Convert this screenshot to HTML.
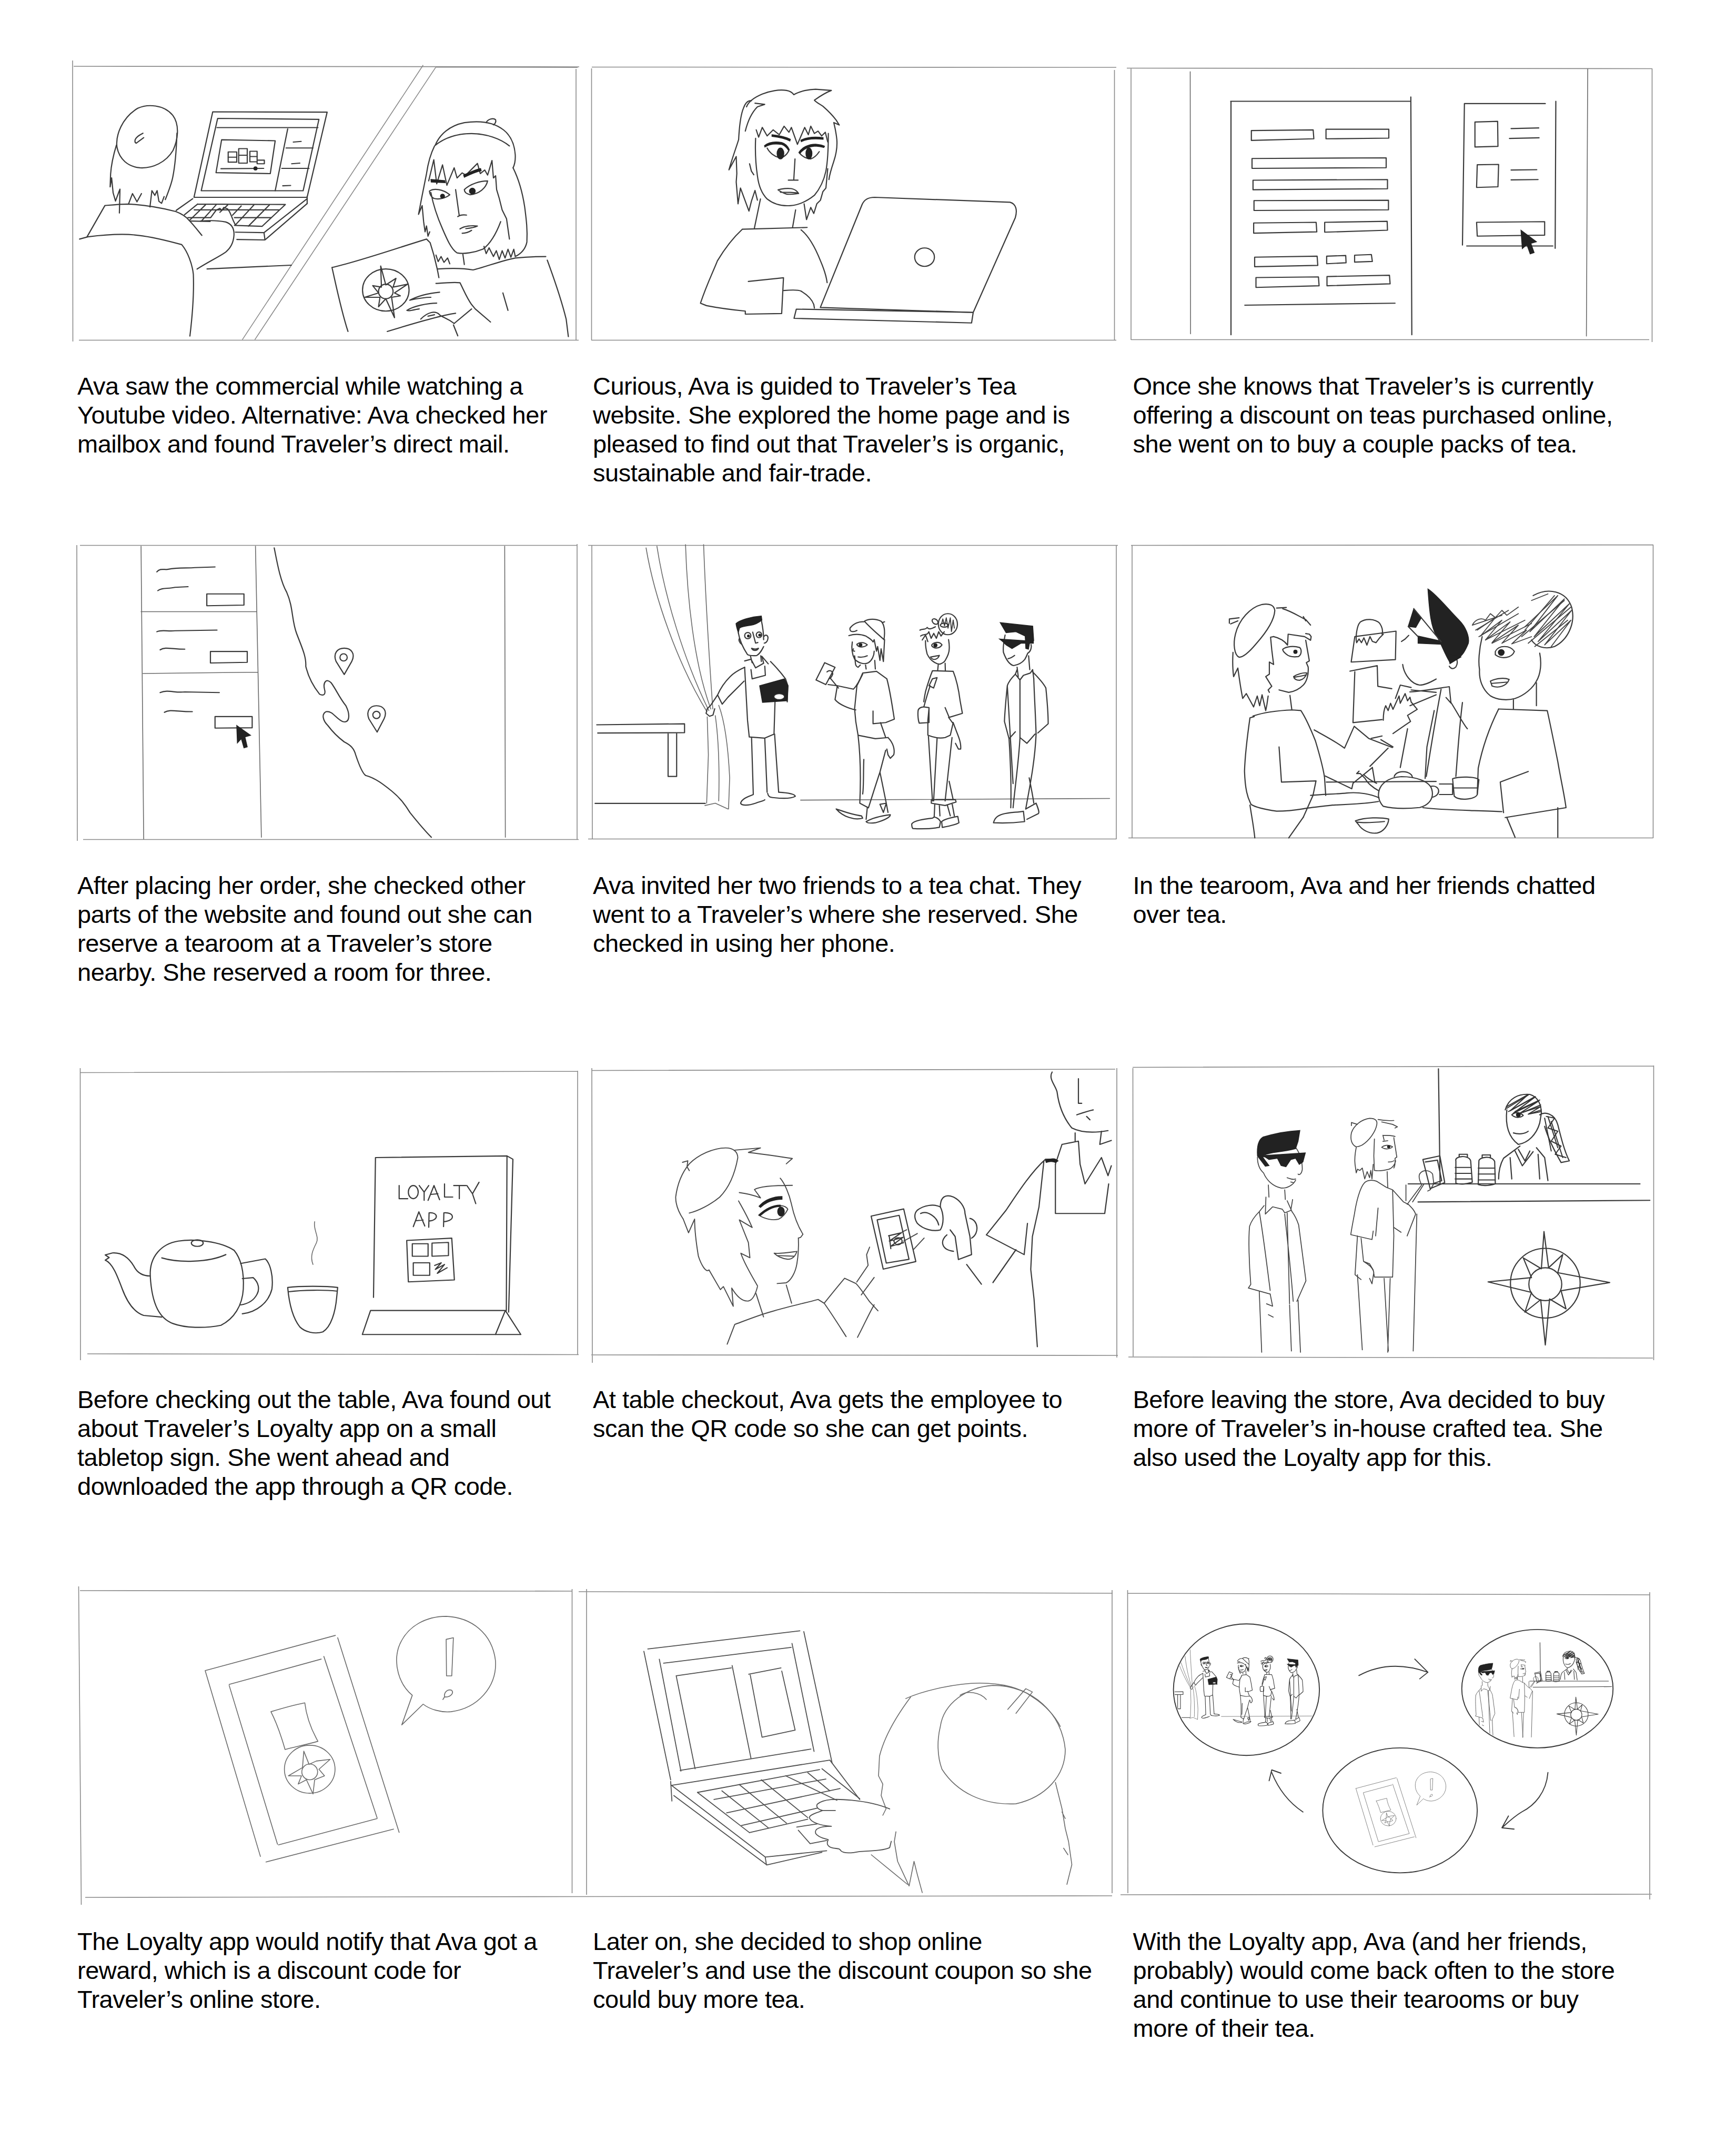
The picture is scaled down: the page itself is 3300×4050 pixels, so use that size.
<!DOCTYPE html>
<html><head><meta charset="utf-8"><title>Storyboard</title>
<style>
html,body{margin:0;padding:0;background:#fff;}
body{width:3300px;height:4050px;position:relative;overflow:hidden;}
.t{position:absolute;font-family:"Liberation Sans",sans-serif;font-size:47px;line-height:55px;letter-spacing:-0.5px;color:#000;white-space:nowrap;}
svg{position:absolute;left:0;top:0;}
svg *{vector-effect:non-scaling-stroke;}
.b{stroke:#8a8a8a;stroke-width:1.6;fill:none;}
.s{stroke:#3a3a3a;stroke-width:var(--sw,2.2px);fill:none;stroke-linecap:round;stroke-linejoin:round;}
.l{stroke:#6a6a6a;stroke-width:var(--lw,1.6px);fill:none;stroke-linecap:round;stroke-linejoin:round;}
.k{fill:#222;stroke:#222;stroke-width:var(--kw,1.5px);}
</style></head><body>
<svg width="3300" height="4050" viewBox="0 0 3300 4050">
<g class="b">
<!-- row 1 -->
<path d="M138,115 L138.5,649 M140,126 L1101,127 M1095,131 L1095,646 M150,646.5 L1100,646.5"/>
<path d="M1124.5,130 L1124.5,646 M1125,127.5 L2122,128 M2118.5,133 L2118.5,646 M1124,646.5 L2122,646.5"/>
<path d="M2150,130 L2150,646 M2142,129.5 L3140,130.5 M3140.5,130 L3140.5,650 M2150,645.5 L3135,645.5"/>
<!-- row 2 -->
<path d="M146,1036 L147,1598 M152,1036.5 L1097,1036.5 M1097,1034 L1097,1596 M158,1595.5 L1100,1595.5"/>
<path d="M1125,1036 L1126,1595 M1118,1036.5 L2125,1036.5 M2122,1036 L2122,1595 M1118,1594.5 L2122,1594.5"/>
<path d="M2152,1036 L2152,1593 M2150,1036.5 L3143,1035.5 M3142.5,1036 L3142.5,1593 M2145,1592.5 L3142,1592.5"/>
<!-- row 3 -->
<path d="M152.5,2030 L153,2585 M152,2038.5 L1098,2036 M1098,2035 L1098,2575 M166,2573 L1100,2574.5"/>
<path d="M1125,2030 L1126,2590 M1125,2034.5 L2120,2032 M2123,2030 L2123,2580 M1124,2575 L2125,2576"/>
<path d="M2153.5,2030 L2154,2578 M2153,2028.5 L3143,2026 M3143.5,2025 L3143.5,2585 M2145,2579 L3142,2581"/>
<!-- row 4 -->
<path d="M149.5,3015 L154.5,3620 M152,3023 L1087,3024 M1087.5,3020 L1087.5,3598 M162,3606 L1100,3604.5"/>
<path d="M1115,3020 L1115,3601 M1100,3025 L2115,3028 M2114,3022 L2114,3598 M1100,3604.5 L2114,3603"/>
<path d="M2143.5,3022 L2144,3598 M2143,3028 L3136,3031 M3136,3026 L3136,3610 M2130,3601 L3140,3600"/>
</g>

<g transform="translate(120,100) scale(0.625)">
<g class="b"><path d="M1095,38 L545,873 M1133,45 L583,873 M1133,44 L1565,45"/></g>
<g class="s">
<!-- laptop screen -->
<path d="M455,180 L803,181 L742,440 L398,440 Z"/>
<path d="M470,200 L778,203 L730,420 L420,420 Z"/>
<path d="M468,228 L775,228 M683,232 L645,420 M678,290 L760,290 M665,352 L748,352"/>
<path d="M700,272 L724,270 M695,338 L720,336 M668,405 L692,404"/>
<path d="M482,265 L645,268 L630,368 L465,365 Z"/>
<path d="M480,353 L610,352"/>
<path d="M502,302 L502,333 L528,333 L528,302 Z M534,292 L534,336 L560,336 L560,292 Z M568,300 L568,332 L590,332 L590,300 Z M590,327 L612,327 L612,338 L590,338 Z"/>
<path d="M502,318 L528,318 M534,312 L560,312 M568,316 L590,316"/>
</g>
<g class="k"><circle cx="585" cy="352" r="5"/></g>
</g>

<g transform="translate(620,200) scale(0.2765)">
<g class="s">
<path d="M750,275 C780,200 850,140 950,120 C1050,105 1150,115 1220,170 C1270,210 1295,270 1300,340 C1302,380 1295,410 1285,430"/>
<path d="M750,275 C820,220 900,195 1000,195 C1100,195 1200,230 1260,280"/>
<path d="M1100,120 C1110,95 1150,85 1165,100 C1170,115 1160,130 1150,135"/>
<path d="M745,280 C720,330 700,400 690,470 C680,520 670,570 660,620 L635,750 L660,690 L670,800 L680,870 L690,830 L700,900 L712,870"/>
<path d="M755,1030 L770,1075 L790,1040 L810,1080 L835,1050 L850,1090"/>
<path d="M1285,430 C1320,500 1350,600 1365,700 C1375,780 1385,850 1380,940 C1370,990 1340,1020 1300,1040 L1290,990 L1270,1045 L1250,990 L1230,1050 L1210,1000 L1190,1060 L1170,1000 L1150,1040 L1120,980 L1100,1020 L1085,970"/>
<path d="M705,520 L740,375 L760,540 L800,410 L830,550 L880,430 L900,500 L935,465 L960,480 L1040,400 L1060,470 L1090,445 L1110,480 L1140,380 L1150,500 L1165,485 L1172,580 L1190,640 L1210,720 L1240,780 L1250,850 L1260,920"/>
<path d="M720,600 C735,680 760,760 800,850 C830,920 860,990 900,1015 C950,1025 1020,1012 1080,988 C1130,950 1170,880 1200,800"/>
<path d="M710,590 C740,570 800,575 850,615 C820,640 770,650 740,640 C720,630 712,610 710,590 Z"/>
<path d="M950,580 C990,540 1060,520 1110,520 C1100,570 1050,610 990,615 C965,610 950,600 950,580 Z"/>
<path d="M890,580 L915,760 M905,765 C920,755 945,752 965,755"/>
<path d="M920,850 C950,830 1000,825 1040,830 C1020,840 990,845 960,848 M935,880 C960,880 985,870 1000,860"/>
<path d="M940,1025 L950,1095"/>
<path d="M770,1125 C850,1120 950,1120 1010,1132 C1100,1110 1200,1070 1300,1050 C1400,1040 1460,1040 1510,1040 M1520,1065 C1570,1200 1620,1350 1650,1470 L1665,1590"/>
<path d="M40,1115 C200,1080 400,1010 690,920 L715,945 C740,1020 760,1100 775,1185 M40,1115 C60,1200 100,1400 150,1555 M420,1555 C600,1500 800,1440 890,1430"/>
<ellipse cx="410" cy="1270" rx="160" ry="145"/>
<circle cx="410" cy="1280" r="50"/>
<path d="M375,1105 L410,1235 L480,1190 L460,1250 L560,1230 L470,1290 L510,1310 L450,1320 L470,1460 L410,1330 L360,1385 L370,1320 L265,1320 L360,1290 L320,1240 L380,1250 Z"/>
<path d="M575,1340 C650,1300 730,1290 780,1285 M575,1340 C620,1330 690,1320 720,1320 M555,1410 C600,1380 700,1360 760,1360 M555,1410 C570,1420 620,1400 640,1400 M650,1470 C700,1420 750,1410 780,1440 C800,1460 830,1460 880,1500 M700,1450 L745,1440"/>
<path d="M755,1225 C820,1220 880,1215 920,1220 C950,1280 970,1330 1000,1370 L1025,1400 L1130,1490 M880,1500 L1000,1400 M875,1510 L905,1585"/>
<path d="M1215,1290 L1250,1410"/>
</g>
<g class="k">
<circle cx="800" cy="625" r="14"/><circle cx="1005" cy="590" r="20"/>
<path d="M720,510 L815,518 L818,532 L722,528 Z M945,480 C990,460 1030,440 1062,435 L1066,450 C1030,458 990,475 950,495 Z"/>
</g>
</g>

<g transform="translate(130,110) scale(0.28345)">
<g class="s">
<path d="M465,338 C530,308 640,312 700,385 C745,445 738,540 702,620 C655,700 565,742 480,737 C400,730 342,680 326,600 C315,520 360,400 465,338 Z"/>
<path d="M500,505 C480,515 455,530 448,548 C445,560 448,570 455,572 L505,535"/>
<path d="M322,585 C302,650 287,720 283,780 L280,865 L290,805 L300,905 L316,960 L336,905 L346,880 L342,1040"/>
<path d="M405,975 L430,910 L460,965 L490,910"/>
<path d="M547,1000 L560,890 L580,922 L595,890 L607,962 L625,975 L642,930"/>
<path d="M728,505 C725,600 720,700 700,800 C690,850 670,900 650,950"/>
<path d="M75,1215 L130,1200 C250,1185 380,1178 470,1190 C560,1200 680,1230 760,1252 C800,1300 830,1380 838,1450 C842,1550 835,1700 815,1865"/>
<path d="M125,1200 L245,990 C300,985 350,980 400,980 C500,985 600,1000 720,1030 C760,1045 790,1065 810,1090 C840,1120 870,1160 895,1190"/>
<path d="M930,1415 L1495,1390"/>
</g>
</g>

<g transform="translate(300,350) scale(0.18433)">
<g class="s">
<path d="M360,150 L190,270 M1540,125 L1540,200"/>
<path d="M410,205 L1315,210 L1075,435 L790,425 M540,385 L340,380 M410,205 L275,315"/>
<path d="M375,265 L1250,265 M310,345 L540,345 M790,345 L1170,345"/>
<path d="M490,215 L330,370 M600,215 L450,380 M720,215 L640,290 M860,225 L770,320 M990,215 L800,420 M1150,215 L935,432"/>
<path d="M800,495 L1095,500 L1540,150 M815,570 L1105,575 L1540,200 M1095,500 L1105,575"/>
<path d="M440,380 C500,375 600,370 700,390 C760,410 790,460 785,530 C780,600 750,660 700,700 C630,750 520,800 405,875"/>
<path d="M545,345 L600,270 L640,250 L660,270 L680,240 L720,255 L740,285 L760,330 L780,380 L800,420"/>
</g>
</g>

<g transform="translate(1100,100) scale(0.625)">
<g class="s">
<path d="M735,775 L862,462 C868,448 880,440 900,440 L1312,455 C1330,460 1335,478 1328,502 L1200,790 Z"/>
<ellipse cx="1052" cy="622" rx="30" ry="28"/>
<path d="M662,780 L1200,790 L1195,822 L655,808 Z"/>
</g>
</g>
<g transform="translate(1320,150) scale(0.23041)">
<g class="s">
<path d="M430,230 C450,180 500,150 560,125 C620,100 700,85 760,95 C790,100 810,115 820,130 C870,100 950,85 1000,85 L1130,95 C1090,110 1040,140 990,175 C1000,190 1030,205 1060,225 C1100,260 1140,300 1170,340 L1195,380 L1150,360 C1160,400 1170,450 1175,500 C1180,560 1170,620 1150,680 C1130,740 1115,790 1110,830"/>
<path d="M1100,740 L1085,900 L1060,930 L1040,1000 L1010,1030 L985,1110 L960,1060 L925,1160 L905,1030"/>
<path d="M470,180 C440,175 420,200 405,240 C380,300 370,400 365,500 C340,580 310,660 285,750 L345,640 L350,780 L345,850 L360,1030 L380,900 L450,1090 L470,1010 L500,920 L520,1000"/>
<path d="M500,200 L580,210 L520,230 C470,280 440,350 420,430 M455,700 L470,760 L490,790"/>
<path d="M505,490 C500,600 505,700 520,800 C530,880 560,950 600,990 C650,1030 720,1050 790,1045 C870,1040 940,1000 990,960 C1040,900 1070,830 1085,760 C1100,680 1105,560 1105,450"/>
<path d="M510,420 L530,480 L560,400 L600,470 L650,420 L700,460 L740,390 L780,440 L800,400 L850,540 L880,470 L910,400 L940,460 L960,390 L990,450 L1020,430 L1050,470 L1080,440 L1100,520"/>
<path d="M600,570 C620,610 660,640 700,650 C730,650 760,630 780,590 M865,610 C890,640 930,660 960,660 C990,650 1010,630 1030,600"/>
<path d="M830,660 L820,830 M775,835 L855,835"/>
<path d="M690,915 C720,905 770,900 800,905 C830,910 850,930 860,945 C820,950 780,955 760,950 C730,940 710,930 690,915 Z M710,935 C750,935 800,935 850,940"/>
<path d="M545,990 L495,1230 M835,1080 L810,1225"/>
<path d="M395,1240 L930,1225 M395,1240 C330,1300 250,1400 190,1500 C150,1600 100,1700 50,1850 L100,1870 C200,1890 320,1905 420,1915 L420,1940 L720,1935 L735,1640 L445,1670"/>
<path d="M880,1245 C950,1300 1000,1400 1040,1500 C1070,1570 1090,1640 1095,1680"/>
<path d="M738,1745 C800,1740 860,1740 880,1750 C930,1780 970,1820 985,1860 L990,1890"/>
</g>
<g class="k">
<path d="M640,460 C690,465 750,475 792,498 L788,512 C750,492 690,480 640,474 Z"/>
<path d="M578,550 C610,524 660,514 720,524 C752,534 772,556 783,583 L775,588 C762,566 745,550 718,540 C660,532 612,540 582,562 Z"/>
<path d="M878,505 C920,484 980,474 1062,484 L1062,498 C980,490 920,498 882,518 Z"/>
<path d="M862,606 C888,564 940,538 1000,538 C1032,541 1062,548 1074,555 L1068,566 C1056,562 1030,556 1000,554 C944,556 896,580 872,614 Z"/>
<ellipse cx="710" cy="615" rx="28" ry="45"/><ellipse cx="945" cy="615" rx="25" ry="45"/>
</g>
</g>

<g transform="translate(2130,100) scale(0.625)">
<g class="l">
<path d="M212,58 L213,855 M1421,50 L1417,862"/>
</g>
<g class="s">
<path d="M335,148 L880,148 M336,148 L336,858 M883,135 L886,858"/>
<path d="M398,237 L586,235 L588,262 L398,267 Z M625,233 L816,233 L816,260 L625,262 Z"/>
<path d="M400,322 L808,320 L808,350 L400,352 Z M403,388 L812,386 L812,414 L403,417 Z M406,450 L815,449 L815,478 L406,480 Z"/>
<path d="M405,518 L595,516 L597,545 L405,549 Z M621,516 L811,513 L812,540 L621,546 Z"/>
<path d="M408,622 L598,619 L600,647 L408,651 Z M627,619 L685,617 L686,639 L627,642 Z M712,616 L763,614 L766,635 L712,637 Z"/>
<path d="M412,684 L602,682 L604,709 L412,714 Z M628,681 L818,677 L820,703 L628,709 Z"/>
<path d="M378,768 L835,762"/>
<path d="M1046,155 L1292,155 M1046,155 L1040,585 M1053,588 L1315,588 M1324,148 L1322,595"/>
<path d="M1078,211 L1147,209 L1148,285 L1078,287 Z M1188,231 L1272,229 M1183,261 L1273,259"/>
<path d="M1085,341 L1150,340 L1148,408 L1083,410 Z M1188,357 L1266,356 M1188,387 L1270,386"/>
<path d="M1083,516 L1290,514 L1290,555 L1085,558 Z"/>
</g>
<g class="k"><path d="M1218,540 L1265,575 L1248,580 L1258,608 L1246,612 L1236,584 L1222,596 Z"/></g>
</g>

<g transform="translate(120,1010) scale(0.625)">
<g class="l">
<path d="M237,45 L245,935 M585,45 L603,930 M1343,45 L1345,930 M237,244 L588,244 M243,432 L592,428"/>
</g>
<g class="s">
<path d="M285,123 C295,110 310,118 320,115 C345,110 380,112 400,110 L462,108"/>
<path d="M288,180 C300,170 320,175 340,170 L380,168"/>
<path d="M437,190 L550,190 L550,224 L437,226 Z"/>
<path d="M285,305 C300,298 320,305 340,302 L468,300"/>
<path d="M295,360 C310,350 330,358 370,358"/>
<path d="M448,365 L560,365 L560,398 L448,400 Z"/>
<path d="M295,490 C320,480 340,492 370,488 L475,490"/>
<path d="M308,550 C325,540 345,548 393,548"/>
<path d="M462,563 L575,563 L575,597 L462,598 Z"/>
<!-- coast -->
<path d="M642,50 C650,90 660,150 680,185 C700,230 695,270 710,310 C725,350 740,380 738,410 C745,440 760,470 780,495 C790,500 800,498 795,480 C790,460 800,445 815,460 C830,480 840,505 860,530 C875,560 870,585 850,578 C830,570 820,545 800,548 C785,555 790,575 805,590 C820,610 835,625 855,640 C875,650 885,660 890,680 C900,710 910,735 920,742 C950,750 975,770 1000,790 C1025,810 1040,830 1055,855 C1075,880 1095,905 1120,930"/>
<!-- pins -->
<path d="M855,435 L830,395 C820,370 835,355 855,355 C875,355 890,370 878,395 Z"/>
<circle cx="853" cy="383" r="11"/>
<path d="M955,610 L930,570 C920,545 935,530 953,530 C973,530 988,545 976,570 Z"/>
<circle cx="953" cy="558" r="11"/>
</g>
<g class="k"><path d="M528,590 L570,620 L553,625 L560,655 L550,658 L542,630 L530,643 Z"/></g>
</g>

<g id="art5" transform="translate(1100,1010) scale(0.625)">
<g class="l">
<path d="M205,50 C230,200 300,400 390,548 M238,45 C262,200 320,390 396,545 M325,40 C330,200 350,400 402,540 M380,40 C386,200 398,400 408,540"/>
<path d="M675,817 L1615,812"/>
</g>
<g class="s">
<path d="M55,588 L322,585 L322,612 L58,613 M272,612 L272,745 L298,745 L298,612 M50,827 L385,827"/>
<!-- bun friend -->
<ellipse cx="1123" cy="282" rx="29" ry="32"/>
<ellipse cx="1084" cy="274" rx="10" ry="7" transform="rotate(40 1084 274)"/><ellipse cx="1112" cy="285" rx="12" ry="6"/>
<path d="M1055,332 C1054,350 1058,365 1060,373 C1066,385 1072,392 1079,396 C1088,402 1096,404 1100,403 C1108,400 1113,396 1115,392 C1122,380 1127,368 1127,358 C1128,345 1126,335 1125,329"/>
<path d="M1038,300 C1045,295 1055,300 1060,292 C1065,300 1075,295 1085,290 M1040,318 C1050,310 1060,318 1065,305 L1072,325 L1080,310 L1088,325 L1095,305 L1102,318 L1112,305 M1045,330 L1055,315 L1062,335"/>
<path d="M1074,345 C1080,336 1098,334 1105,345 C1098,356 1082,358 1074,348 Z M1070,382 C1080,380 1092,378 1097,377 C1092,390 1078,394 1070,382 Z"/>
<!-- guy -->
<path d="M1297,315 C1293,335 1290,355 1292,368 C1300,390 1310,405 1323,408 C1340,405 1350,398 1357,389 C1362,380 1364,375 1366,370 C1376,365 1378,350 1376,344"/>
<path d="M1306,387 C1315,385 1322,380 1326,377"/>
</g>
<g class="k">
<circle cx="1085" cy="346" r="5"/>
<path d="M1282,277 L1381,288 L1384,332 L1372,336 L1368,358 L1360,356 L1358,318 L1330,305 L1300,308 Z"/>
<path d="M1280,327 L1383,334 L1383,340 L1345,340 L1318,356 L1300,345 L1290,335 Z"/>
</g>
<g transform="translate(384,224) scale(0.35022)">
<g class="s">
<path d="M290,240 C300,300 330,370 370,430 C390,440 420,440 450,438 C480,420 495,390 510,360 M490,130 C500,180 510,250 510,300"/>
<path d="M300,290 C290,300 300,330 320,340 M515,270 C530,250 555,265 545,300 C540,320 525,330 515,330"/>
<circle cx="372" cy="265" r="27"/><circle cx="470" cy="258" r="24"/>
<path d="M415,235 L440,330 L460,325 M405,375 C430,385 455,380 465,375 C450,400 420,400 405,375 Z"/>
<path d="M395,440 L410,500 M485,440 L490,490 M345,485 L400,470 L440,545 L510,505 L495,445 L550,510"/>
<path d="M345,540 L370,1000 L385,1145 L520,1155 L600,1120 L610,800 M400,560 L410,640 L525,610 L520,530"/>
<path d="M345,540 C300,560 260,580 220,620 C180,660 140,710 110,780 L150,860 L200,800 C240,760 280,720 340,660 M110,780 L90,810 L50,870 L20,900 L10,940 L40,965 L70,955 L85,900"/>
<path d="M570,490 C620,540 670,600 700,640 L720,700 L715,840"/>
<path d="M405,1150 L420,1640 M520,1160 L540,1625 M605,1120 L640,1620"/>
<path d="M420,1645 C380,1660 320,1680 310,1720 C320,1745 380,1740 440,1720 C480,1705 510,1700 520,1690 M545,1635 C550,1660 560,1670 600,1672 C670,1680 750,1680 785,1660 C780,1640 720,1630 640,1625"/>
<path d="M1385,140 C1420,120 1480,115 1530,140 C1560,170 1565,230 1555,300 C1500,250 1440,200 1385,140 Z M1545,150 L1560,145"/>
<path d="M1380,145 C1340,140 1290,160 1260,200 C1255,230 1280,240 1320,220 M1250,265 C1300,250 1350,250 1400,270 C1430,290 1450,300 1460,320 L1470,300 L1490,400 L1500,360 L1520,480 L1530,380 L1550,490 L1560,300"/>
<path d="M1280,320 C1270,380 1280,430 1300,470 C1330,500 1380,520 1420,500 C1450,480 1470,440 1470,400 M1300,440 C1310,500 1300,530 1330,540 L1350,520"/>
<path d="M1320,340 C1345,320 1380,320 1410,345 C1380,370 1340,370 1320,345 Z M1290,380 C1280,390 1285,400 1300,400 M1330,450 C1360,455 1390,450 1410,440 M1395,520 L1400,555 M1475,480 L1480,555"/>
<path d="M965,650 L1040,500 L1130,540 L1050,690 Z M1060,580 C1080,560 1110,570 1110,600 C1100,625 1085,640 1075,640 M1070,690 L1150,700 M1085,630 L1160,720"/>
<path d="M1150,700 L1290,730 C1320,700 1350,640 1370,590 L1490,575 L1580,640 C1610,750 1630,900 1645,990 L1570,1020 L1460,1030 L1460,920 M1370,600 L1320,700 L1300,900 L1310,1010 L1330,1130 M1150,700 L1130,820 C1160,860 1250,900 1310,910 M1330,1130 L1480,1160 L1590,1150"/>
<path d="M1525,1020 L1570,1150 M1590,1150 C1640,1200 1650,1260 1640,1300 L1610,1330 L1590,1300 L1580,1250"/>
<path d="M1330,1130 C1350,1300 1355,1500 1345,1720 L1420,1760 C1440,1700 1470,1600 1520,1450 L1570,1260 M1410,1760 L1400,1860 M1380,1340 C1375,1450 1380,1580 1370,1640 M1520,1450 L1575,1720 L1520,1730 L1550,1800 L1575,1720 L1590,1800"/>
<path d="M1140,1770 C1200,1790 1280,1820 1360,1830 L1370,1850 C1300,1870 1200,1840 1140,1770 Z M1400,1880 C1450,1850 1530,1830 1610,1820 C1610,1840 1560,1870 1480,1890 C1440,1895 1410,1895 1400,1880 Z"/>
</g>
<g class="l">
<path d="M20,970 L30,1300 L15,1720 M90,960 C110,1100 130,1300 120,1700 M120,870 C170,1000 200,1200 215,1500 L205,1770 M0,1740 L90,1720 L200,1770"/>
</g>
<g class="k">
<path d="M270,160 C300,130 400,100 490,95 L495,130 C470,150 440,170 400,175 C360,180 320,185 300,200 L290,240 C280,210 272,185 270,160 Z"/>
<path d="M475,700 L690,640 L722,700 L715,830 L500,845 Z"/>
<circle cx="378" cy="268" r="9"/><circle cx="476" cy="260" r="9"/><circle cx="1352" cy="345" r="12"/>
</g>
<ellipse cx="645" cy="795" rx="45" ry="25" fill="#fff" stroke="#333" stroke-width="1.5"/>
</g>
<g transform="translate(992,224) scale(0.35022)">
<g class="s">
<path d="M290,520 L285,570 M350,505 L352,570"/>
<path d="M240,570 L420,575 C450,650 470,750 480,830 L500,940 L385,975 L350,890 M240,570 C220,620 200,680 180,750 C170,800 165,830 165,840 M210,900 L200,1000 L200,1130 C250,1150 300,1160 350,1150 L395,1130 L420,1020 M380,975 L420,1030"/>
<path d="M115,920 C115,900 140,880 170,885 L210,890 L210,1020 L125,1025 C115,1000 112,950 115,920 Z M165,885 C180,830 200,760 220,700 M240,640 L280,630 L250,720 L210,700 Z"/>
<path d="M420,1020 L450,1100 C470,1150 490,1200 485,1250 L465,1250 L440,1200"/>
<path d="M205,1140 L240,1700 M280,1160 L250,1700 M410,1150 L350,1700 M385,1530 L420,1690"/>
<path d="M230,1690 L440,1690 L445,1710 L350,1740 L230,1720 Z M260,1730 L255,1840 M300,1740 L305,1830 M370,1740 L395,1830 M410,1720 L430,1830"/>
<path d="M60,1900 C80,1870 160,1860 240,1850 L255,1840 C280,1845 300,1860 310,1880 L300,1930 C240,1940 150,1945 70,1940 C60,1930 60,1910 60,1900 Z M320,1880 C340,1860 400,1845 460,1835 L470,1890 C440,1910 380,1920 325,1930 Z"/>
<path d="M975,540 L985,620 M1075,440 L1085,560 M975,560 L960,600 L1000,650 L1030,610 L1090,590 L1110,560 L1120,640"/>
<path d="M960,600 C930,630 900,670 890,700 C880,800 870,900 865,1010 L905,1160 L960,1100 M890,700 L940,1550 M1000,650 L1000,1150 L1060,1200 L1130,1120 M1110,580 C1150,620 1200,670 1225,720 C1235,820 1245,920 1245,1030 L1155,1110 M1120,640 C1125,800 1135,950 1140,1120"/>
<path d="M905,1160 C920,1400 925,1600 920,1760 M1000,1150 C990,1350 960,1550 940,1760 M1140,1120 C1130,1350 1090,1550 1050,1770 M1080,1500 C1100,1600 1115,1680 1120,1720"/>
<path d="M770,1890 C780,1850 800,1830 850,1815 C900,1800 970,1800 1030,1790 L1040,1880 C960,1890 870,1895 770,1890 Z M1050,1770 L1140,1720 C1160,1770 1170,1800 1160,1810 L1060,1860"/>
</g>
<g class="s" style="stroke-width:var(--sw,1.8px)"><path d="M320,160 L330,120 L345,180 L360,110 L375,200 L395,110 L405,230 L420,130 L430,200"/></g>
</g>
</g>

<g transform="translate(2130,1010) scale(0.625)">
<g class="s">
<!-- center guy (right side parts) -->
<path d="M995,400 M1005,380 C1020,375 1030,395 1020,412 C1012,420 1005,418 1000,410"/>
<path d="M880,488 C920,485 960,478 1000,472 L1005,522 L990,505"/>
<path d="M1005,520 C1030,560 1045,590 1055,600 M975,480 C960,560 945,650 930,745 M1040,520 C1030,600 1025,680 1020,745"/>
<path d="M945,775 C970,770 978,800 950,808"/>
<!-- right girl -->
<path d="M1255,195 C1300,170 1355,180 1372,230 C1385,280 1360,330 1320,350 C1290,360 1262,350 1250,330"/>
<path d="M1100,320 C1090,360 1088,400 1092,420 C1090,450 1100,480 1125,500 C1145,512 1175,515 1200,508 C1230,498 1255,475 1265,455 C1280,430 1280,395 1275,370"/>
<path d="M1140,365 C1150,345 1185,345 1198,365 C1190,385 1160,390 1140,375 Z"/>
<path d="M1125,455 C1145,445 1170,445 1182,450 C1175,470 1150,478 1130,470 Z M1130,462 L1178,458"/>
<path d="M1195,512 L1195,540 M1265,460 L1265,530"/>
<path d="M1150,540 L1298,545 C1310,600 1320,650 1330,700 C1340,760 1350,800 1355,840 L1170,870"/>
<path d="M1150,540 C1120,600 1100,660 1088,720 L1085,800 M1240,730 L1155,762 L1165,855 M1175,870 L1200,930 M1330,840 L1330,930"/>
<path d="M1010,752 C1030,745 1080,745 1090,755 L1085,800 C1080,815 1030,820 1015,805 Z M1012,780 L1085,780 M970,768 L1010,768 L1010,800 L970,800"/>
<path d="M920,840 C980,848 1080,848 1160,852"/>
</g>
<g class="k">
<path d="M935,175 C960,190 1000,240 1030,270 C1050,290 1062,320 1058,340 C1050,360 1040,380 1020,390 L1000,395 C985,370 975,340 960,315 C945,290 940,250 935,175 Z"/>
<path d="M875,289 L892,235 L915,262 L898,292 Z M905,318 L978,334 L976,343 L905,340 Z M995,372 L1035,382 L1002,402 Z"/>
<circle cx="1158" cy="368" r="9"/>
</g>
<g class="s"><path d="M892,235 L975,335 M875,289 L905,320"/></g>
<g class="s" style="stroke:#444;stroke-width:1.8px">
<path d="M1230,290 L1330,195 L1245,305 L1350,205 L1258,320 L1365,220 L1270,335 L1372,240 L1290,345 L1370,270 L1310,350 M1085,300 L1140,262 L1095,318 L1160,270 L1110,330 L1185,275 L1130,338 L1210,285 L1160,340 L1235,300 L1190,342 L1250,320"/>
<path d="M1070,285 C1080,265 1100,262 1110,270 L1125,250 L1140,262 L1160,240 L1175,255 L1210,230 M1080,300 L1180,240 M1090,320 L1210,250 M1110,330 L1230,270 M1130,340 L1250,280 M1220,320 L1350,210 M1240,340 L1370,230 M1260,350 L1360,270 M1230,300 L1320,195 M1250,210 L1300,190 M1070,285 L1160,255"/>
</g>
</g>
<g transform="translate(2330,1120) scale(0.23041)">
<g class="s">
<path d="M110,560 C70,540 60,450 80,370 C110,250 200,150 300,125 C360,115 400,130 405,175 C400,260 330,360 250,450 C200,510 150,560 110,560 Z M30,280 L30,245 L110,235 M40,285 L100,260"/>
<path d="M420,155 L500,150 M470,160 C540,180 600,220 660,250 L700,295 M640,225 L660,260"/>
<path d="M60,520 C55,600 60,680 65,720 L100,650 C110,720 120,800 140,900 L170,860 L230,970 L260,880 L280,960 L300,870 L330,1000 L340,950 L350,880"/>
<path d="M395,390 L370,395 L380,500 L395,620 L360,600 L360,700 L330,720 L380,800 L350,830 L360,850"/>
<path d="M515,370 L650,390 L700,420 L705,390 L690,370 L660,365 M660,420 L690,590 L665,605 L680,640 C685,700 670,760 640,790 C600,830 560,845 520,850 L440,830 M395,390 C440,400 480,420 510,460 L515,370"/>
<path d="M470,495 C500,470 560,465 610,480 C630,500 625,540 600,555 C560,560 520,555 500,535 C480,520 470,505 470,495 Z"/>
<path d="M560,720 C590,700 640,685 670,690 C660,720 640,745 610,750 C580,750 565,740 560,720 Z M565,725 C600,720 640,712 665,705"/>
<path d="M530,875 L545,990"/>
<path d="M225,1045 C300,1020 420,1000 550,995 L620,1000 C660,1060 700,1150 740,1250 C770,1350 800,1450 815,1550 L825,1700"/>
<path d="M440,1300 L460,1590 L745,1580 L720,1700 L640,1880 M235,1050 L200,1060 C180,1200 160,1350 155,1500 C160,1650 180,1720 210,1775 C250,1800 350,1820 420,1830 C500,1830 580,1820 640,1810"/>
<path d="M200,1780 C210,1850 230,1950 240,2050 M520,2050 L640,1880"/>
<path d="M730,1160 C800,1200 900,1250 980,1310 L1060,1130 L1180,1230 L1375,1305"/>
<path d="M820,1540 L1040,1645 L1050,1600 L1210,1470"/>
<path d="M700,1700 C800,1690 900,1690 1000,1680 C1100,1670 1200,1690 1265,1720 M640,1810 C700,1800 800,1790 880,1780 C1000,1775 1150,1770 1260,1750"/>
<path d="M1070,1910 C1150,1880 1280,1880 1345,1895 C1340,1950 1300,2000 1250,2010 C1180,2020 1120,1980 1095,1940 L1070,1910 Z M1085,1920 C1150,1930 1260,1920 1310,1915"/>
<path d="M1260,1700 C1260,1600 1350,1550 1450,1545 C1560,1545 1680,1580 1700,1650 C1720,1720 1680,1780 1600,1800 C1500,1810 1380,1810 1300,1790 C1270,1760 1260,1720 1260,1700 Z"/>
<path d="M1390,1545 C1400,1510 1450,1495 1500,1510 C1530,1520 1540,1540 1540,1550"/>
<path d="M1260,1660 C1220,1640 1170,1600 1150,1560 L1110,1520 L1080,1520 L1100,1500 M1245,1600 C1200,1580 1160,1550 1140,1530"/>
<path d="M830,1590 L1736,1585"/>
<path d="M1035,600 L1065,390 L1405,345 L1400,580 Z"/>
<path d="M1080,440 C1070,400 1080,300 1110,270 C1150,240 1230,240 1270,280 C1290,310 1300,340 1290,370 M1080,440 L1100,410 L1120,440 L1140,400 L1165,460 L1190,390 L1210,430 L1240,440 L1270,400 L1300,370"/>
<path d="M1025,675 L1250,630 L1255,800 L1370,820 M1065,680 L1050,1100 L1290,1075"/>
<path d="M1460,620 C1470,700 1530,780 1600,790 C1650,790 1700,760 1736,740 M1450,430 L1480,410 L1510,380"/>
<path d="M1300,1080 C1300,1020 1310,980 1320,960 L1340,1000 L1360,940 L1380,990 L1430,880 L1440,940 L1480,860 L1500,920 L1520,890 L1530,930 L1580,990 L1500,1040 L1525,1090 L1480,1120 L1380,1190"/>
<path d="M1400,900 L1440,790 L1530,810 M1530,830 L1736,850 M1520,960 L1736,870"/>
<path d="M1200,1230 L1290,1210 M1280,1240 L1380,1300 M1340,1310 L1190,1460 M1210,1470 L1230,1590 M1500,1150 L1440,1470 M1720,1000 L1660,1300 L1645,1560"/>
</g>
<g class="k"><circle cx="575" cy="515" r="14"/></g>
</g>

<g transform="translate(120,2000) scale(0.625)">
<g class="s">
<path d="M265,680 C262,620 300,582 350,574 C400,566 480,575 520,602 C545,632 550,680 548,720 C545,770 520,810 480,830 C430,840 370,838 335,825 C295,810 270,770 265,680 Z"/>
<path d="M300,625 C350,640 440,640 495,615"/>
<ellipse cx="408" cy="580" rx="18" ry="10"/>
<path d="M265,680 C240,680 225,670 215,650 C200,625 180,608 150,610 L128,616 L140,624 L128,632 C150,640 165,680 180,720 C195,760 215,790 245,800 L300,805"/>
<path d="M540,642 L615,628 C630,642 640,680 635,720 C625,760 590,790 545,795 M545,688 L578,685 C595,700 598,720 590,735 C580,755 560,765 540,768"/>
<path d="M683,715 C720,710 800,710 835,715 L832,745 C828,790 815,835 790,850 C765,858 735,850 720,835 C700,810 688,770 683,715 Z"/>
<path d="M686,728 C730,722 800,722 832,726"/>
<path d="M950,320 L1350,315 L1348,785 M950,320 L944,745 M1350,315 L1368,325 L1355,790"/>
<path d="M910,858 L935,785 L1345,785 L1392,858 Z M1345,785 L1315,858"/>
<path d="M1045,572 L1182,565 L1190,692 L1050,698 Z"/>
<path d="M1062,582 L1110,582 L1110,620 L1062,620 Z M1122,580 L1172,578 L1172,618 L1122,620 Z M1065,640 L1115,640 L1115,678 L1065,678 Z"/>
<path d="M1130,648 L1150,640 L1132,660 L1160,645 L1138,672 L1168,655"/>
<path d="M1022,405 L1022,445 L1048,445 M1083,405 L1098,425 L1112,405 M1098,425 L1098,450 M1110,450 L1128,405 L1145,448 M1118,432 L1140,430 M1160,400 L1160,440 L1185,440 M1188,405 L1225,405 M1205,405 L1205,445 M1228,405 L1245,430 L1265,395 M1245,430 L1255,460"/>
<ellipse cx="1065" cy="425" rx="15" ry="20"/>
<path d="M1065,530 L1082,485 L1100,528 M1072,512 L1095,510 M1112,532 L1113,488 C1140,485 1145,510 1113,513 M1157,530 L1158,488 C1190,485 1195,512 1158,515"/>
</g>
<g class="l"><path d="M765,515 C760,540 780,560 770,580 C760,600 750,620 760,645"/></g>
</g>

<g transform="translate(1100,2000) scale(0.625)">
<g class="s">
<path d="M1030,480 C1050,465 1080,460 1100,470 C1110,490 1112,520 1100,540 C1080,545 1050,540 1030,520 C1020,505 1020,490 1030,480 Z M1040,490 C1060,480 1090,500 1095,525"/>
<path d="M1100,470 C1100,440 1115,430 1140,440 C1160,450 1175,470 1175,490 L1190,560 L1195,615 L1155,630 L1145,560 L1130,540 M1190,505 C1215,510 1220,550 1195,565 M1120,555 C1100,570 1100,600 1140,605"/>
<path d="M1440,60 C1428,80 1450,100 1455,120 C1460,160 1475,200 1500,230 C1530,245 1570,245 1610,238 M1520,80 L1520,155 L1530,155 M1515,190 C1530,185 1550,178 1565,175 M1545,195 L1555,205"/>
<path d="M1470,280 L1520,270 L1525,340 L1540,400 L1590,320 L1610,375 L1620,345 M1470,280 L1450,340 M1510,245 L1510,270 M1590,240 L1585,280 L1620,268"/>
<path d="M1445,325 L1420,325 C1380,360 1340,420 1300,480 L1240,555 L1355,615 L1365,520 M1415,330 L1400,470 L1380,560 L1375,660 L1385,750 L1395,895 M1450,340 L1450,490 L1600,490 L1612,400"/>
<path d="M1180,645 L1225,705 M1260,700 L1330,600"/>
</g>
<g class="k">

<path d="M1420,328 C1440,322 1450,322 1458,330 L1450,335 C1440,330 1430,332 1422,335 Z"/>
</g>
</g>

<g transform="translate(1270,2160) scale(0.28802)">
<g class="l" style="stroke:#484848;stroke-width:1.9px">
<path d="M140,505 C200,490 280,450 340,400 C400,340 440,250 460,140 C460,100 430,75 380,75 C300,75 200,120 140,180 C90,240 60,320 50,400 C50,450 70,500 100,545 M95,170 L130,160 L125,200 L140,225"/>
<path d="M440,90 L610,75 L530,105 C620,115 720,130 820,145 L780,180"/>
<path d="M100,545 L135,635 L175,545 C175,600 185,700 200,790 C220,850 250,900 270,880 L345,1010 L365,990 L430,1120 L420,1000 C450,1050 490,1090 530,1085 C560,1080 580,1030 590,990"/>
<path d="M470,370 C510,375 560,385 610,405 L570,350 C600,330 700,322 820,322 M740,275 C770,310 800,380 815,450 C830,520 850,580 890,645 L875,665 L860,670"/>
<path d="M465,425 C490,470 520,520 555,600 L470,550 C490,600 510,650 530,700 L540,800 L480,770 C500,830 540,900 590,985"/>
<path d="M860,670 C862,720 860,780 850,840 C840,900 810,950 780,965 L720,970"/>
<path d="M600,520 C630,490 680,455 740,455 C770,458 785,470 790,480 C780,500 760,530 730,545 C690,555 640,545 600,520 Z"/>
<path d="M700,770 C740,775 800,765 850,758 C840,790 820,810 790,810 C750,805 720,790 700,770 Z M720,785 L830,790"/>
<path d="M580,1035 L630,1190 M780,980 L815,1100"/>
<path d="M390,1370 L440,1240 C520,1210 620,1170 700,1150 C800,1120 900,1100 990,1075 L1030,1100 C1080,1170 1130,1250 1175,1320 M1030,1100 C1070,1050 1110,1000 1165,935 L1240,970 C1270,1000 1300,1050 1330,1090 L1385,1150 M1360,1110 C1320,1180 1290,1250 1250,1325"/>
<path d="M1245,960 L1320,850 L1310,780 L1330,730 M1275,1045 L1360,930"/>
<path d="M1545,630 L1575,615 M1555,690 L1645,640 M1620,745 L1690,670"/>
</g>
<g class="s">
<path d="M1340,525 L1555,478 L1635,825 L1420,875 Z M1380,550 L1525,520 L1590,810 L1440,835 Z"/>
<path d="M1455,655 L1540,635 L1460,690 L1550,665 L1468,725 L1555,700 M1470,740 L1460,660 M1490,690 C1500,660 1540,660 1545,690 C1540,720 1500,725 1490,690 Z"/>
</g>
<g class="k">
<ellipse cx="745" cy="495" rx="22" ry="30"/>
<path d="M600,460 C640,415 700,395 752,396 L752,414 C700,414 645,432 610,468 Z"/>
<path d="M598,518 C630,488 680,452 740,452 L742,462 C690,462 640,492 608,522 Z"/>
</g>
</g>

<g id="art9">
<g transform="translate(2130,2000) scale(0.625)">
<g class="s">
<path d="M967,50 L972,400 M875,400 L1580,400 M905,455 L1610,450 M878,400 L878,400"/>
<path d="M1020,330 C1015,315 1060,310 1065,330 L1070,395 C1050,402 1030,402 1020,398 Z M1018,350 L1066,350 M1018,368 L1068,368 M1018,385 L1068,385 M1030,318 L1030,310 L1055,310 L1055,318"/>
<path d="M1090,332 C1088,318 1130,312 1138,332 L1140,400 C1120,406 1100,406 1088,402 Z M1088,352 L1138,352 M1088,370 L1140,370 M1088,388 L1140,388 M1100,320 L1100,312 L1125,312 L1125,320"/>
<path d="M1175,175 C1170,220 1180,258 1210,280 C1240,275 1265,250 1275,215 L1280,185"/>
<path d="M1190,190 C1200,180 1215,182 1225,192 C1215,200 1200,200 1190,190 Z M1195,245 C1210,250 1230,248 1240,240"/>
<path d="M1275,190 C1290,180 1320,185 1330,220 C1340,260 1350,300 1365,330 L1340,335 C1320,300 1300,260 1290,225"/>
<path d="M1215,285 L1165,322 C1155,340 1150,360 1150,385 M1265,290 L1290,320 L1300,390 M1210,295 L1230,330 L1245,300 M1185,320 L1190,385 M1270,310 L1275,385 M1200,300 L1222,345 L1255,302"/>









<circle cx="1292" cy="702" r="106"/>
<circle cx="1292" cy="705" r="50"/>
<path d="M1288,545 L1302,655 L1345,615 L1330,670 L1488,700 L1340,725 L1355,780 L1305,750 L1292,890 L1278,752 L1230,790 L1250,730 L1118,698 L1250,685 L1225,625 L1280,658 Z"/>
</g>
<g class="k">


<circle cx="1210" cy="190" r="6"/>
</g>
<g class="s" style="stroke:#333;stroke-width:var(--sw,2px)">
<path d="M1175,165 L1240,128 L1185,178 L1262,135 L1195,185 L1272,148 L1215,185 L1278,165 L1240,188 L1280,180 M1295,195 L1320,200 L1300,230 L1330,240 L1310,270 L1340,285 L1322,310 L1355,320"/>
<path d="M1170,175 C1180,140 1210,125 1245,128 C1270,135 1280,160 1280,185 M1175,170 L1240,130 M1180,180 L1260,135 M1200,180 L1275,145 M1225,182 L1278,160 M1250,185 L1280,175 M1290,200 L1310,300 M1300,195 L1330,290 M1310,210 L1345,320"/>
</g>
</g>

<g transform="translate(2350,2100) scale(0.23041)">
<g class="l" style="stroke:#444;stroke-width:var(--lw,1.7px)">
<path d="M175,430 C175,480 190,530 225,560 M490,350 C520,390 545,440 545,530 C540,570 520,580 510,570 M225,560 C250,620 300,670 370,685 C420,690 470,660 490,620 M420,600 C450,610 470,620 490,610 M450,635 L470,640"/>
<path d="M265,660 L270,760 M400,700 L405,780 M245,760 L240,900 L300,840 L380,860 L400,890 L450,870 L465,780 M420,790 L460,880"/>
<path d="M230,830 L190,880 C150,920 120,970 110,1000 C100,1100 105,1300 120,1480 L100,1510 L280,1560 M190,880 C220,1050 250,1300 280,1530 M400,900 C420,1100 450,1350 470,1620 M460,880 C490,920 505,960 515,990 C530,1100 550,1250 575,1450 L500,1620 M420,890 L440,1640"/>
<path d="M190,1540 L210,2040 M440,1650 L455,2030 M510,1610 L530,2040 M280,1560 L300,1660 L250,1640 M265,1730 L305,1750"/>
<path d="M990,345 C950,330 940,280 950,230 C970,170 1030,120 1100,110 C1150,110 1165,130 1160,160 C1150,220 1100,290 1040,330 C1020,340 1000,345 990,345 Z M950,170 L950,145 L1000,160"/>
<path d="M1170,120 C1220,130 1270,130 1300,128 M1200,140 L1290,160 L1330,180 L1310,190 M1210,250 L1220,290 M1210,250 C1240,250 1280,250 1310,260"/>
<path d="M1140,280 L1135,420 L1140,540 C1170,545 1220,540 1260,530 C1290,520 1310,490 1315,460 M1300,270 C1305,310 1315,360 1320,400 L1325,430 L1310,440 C1312,470 1312,500 1300,520"/>
<path d="M1200,350 C1220,330 1260,325 1290,345 C1270,365 1230,370 1200,350 Z M1210,300 L1250,295 M1255,470 C1280,470 1295,465 1300,460"/>
<path d="M990,350 C980,400 975,450 980,490 L990,560 L1000,530 L1020,540 L1040,520 L1060,610 L1080,550 L1100,600 L1110,540 L1120,610 L1130,490 M1245,550 L1250,680"/>
<path d="M1060,640 C1080,620 1120,615 1160,630 L1240,680 L1290,700 L1380,800 L1420,820 M1060,640 C1020,680 990,800 975,900 C960,980 950,1030 945,1070 L1120,1110 L1130,1040 M1170,850 L1150,1080 M1290,700 L1300,1080 L1290,1420 L1140,1420 L1130,1360 L1100,1310 L1050,1290 L1030,1100 M1000,1080 L980,1400 L1030,1440 M1050,1290 C1080,1310 1120,1330 1135,1380 L1120,1475 L1100,1430 M1300,1010 L1360,1050"/>
<path d="M1410,820 L1530,660 C1510,620 1500,580 1520,560 C1550,530 1600,540 1620,570 L1630,650 L1600,700 L1580,710 M1420,820 C1450,850 1470,870 1480,900 L1410,1080 M1455,800 L1550,650"/>
<path d="M1000,1400 L1040,2020 M1220,1430 L1255,2030 M1270,1430 L1250,2040"/>
<path d="M1490,900 L1460,2030 M1400,660 L1400,790"/>
</g>
<g class="s"><path d="M1540,450 L1680,420 L1720,640 L1600,690 Z M1560,470 L1660,455 L1695,625 L1620,650"/></g>
<g class="k">
<path d="M175,420 C170,350 180,290 220,265 C300,240 420,215 525,210 L510,300 L490,360 C450,370 400,380 330,390 C280,395 240,410 210,420 L270,500 L240,505 Z"/>
<path d="M185,420 L570,395 L550,470 L520,490 L490,440 L450,450 L410,510 L370,500 L340,440 L270,450 L240,430 Z"/>
<circle cx="1258" cy="345" r="10"/>
</g>
</g>

</g>

<g id="art10" transform="translate(120,3000) scale(0.625)">
<g class="l">
<path d="M432,280 L828,173 M835,180 L1022,772 M432,280 L600,845 M617,862 L1005,762"/>
<path d="M505,322 L785,245 M793,237 L955,728 M505,325 L652,808 M655,810 L955,730"/>
<path d="M632,405 C665,395 700,385 735,378 C740,420 755,460 775,495 C740,505 705,512 675,520 C665,485 650,440 632,405 Z"/>
<ellipse cx="750" cy="580" rx="77" ry="73"/>
<circle cx="750" cy="588" r="24"/>
<path d="M732,525 L748,565 L770,555 L812,550 L778,580 L795,600 L765,612 L760,655 L740,612 L715,625 L725,600 L685,600 L728,575 Z"/>
<path d="M1062,355 C1020,320 1005,260 1020,210 C1045,140 1110,115 1165,115 C1240,118 1305,165 1315,250 C1320,330 1260,395 1180,405 C1150,408 1115,398 1095,382 L1030,445 Z"/>
<path d="M1165,185 L1187,180 L1182,296 L1166,296 Z"/>
<path d="M1160,360 C1158,345 1170,335 1182,340 C1190,350 1175,362 1160,360 Z M1160,360 L1155,368"/>
</g>
</g>

<g transform="translate(1100,3000) scale(0.625)">
<g class="l">
<path d="M1100,450 C1110,380 1180,330 1260,325 C1380,325 1470,410 1480,520 C1480,600 1420,665 1330,685 C1230,690 1150,650 1105,580 C1090,540 1090,490 1100,450 Z"/>
<path d="M995,365 C1050,340 1150,318 1220,318 C1280,318 1340,330 1380,360 C1420,385 1450,420 1465,450"/>
<path d="M1010,360 C965,420 930,480 915,540 L912,600 L925,625 L920,660 L935,700 L925,720 M965,770 L960,800 L970,860 L1005,935 L1020,860 L1030,900 L1045,955 M890,840 L1000,930"/>
<path d="M1450,620 L1470,700 L1480,760 L1490,800 L1500,870 L1485,930 M1470,710 L1480,730 M1475,820 L1488,840"/>
<path d="M1305,398 L1360,335 L1380,345 L1330,410 M1160,355 C1180,340 1220,345 1240,368"/>
</g>
</g>

<g transform="translate(1200,3080) scale(0.29954)">
<g class="l" style="stroke:#505050;stroke-width:1.8px">
<path d="M105,180 L1070,65 M1095,70 L1275,905 M80,195 L250,1010"/>
<path d="M205,270 L1015,170 M1020,145 L1160,830 M178,245 L315,955 M310,950 L1140,815"/>
<path d="M285,350 L635,300 M640,285 L760,875 M285,350 L405,940 M745,340 L950,300 M955,320 L1040,695 L830,740 L755,345"/>
<path d="M255,1045 L1260,885 L1450,1135 M255,1045 L850,1500 L1240,1460 M270,1110 L860,1550 L1210,1470 M250,1020 L258,1145 M850,1500 L858,1550 M1260,885 L1275,905"/>
<path d="M420,1090 L1195,945 M1210,940 L1450,1130 M525,1135 L1235,1005 M605,1220 L1325,1065 M700,1300 L1180,1190 M750,1345 L1120,1260"/>
<path d="M420,1090 L750,1345 M575,1080 L870,1315 M685,1040 L985,1285 M825,1010 L1120,1250 M980,985 L1305,1140 M1120,965 L1260,1080"/>
<path d="M1050,1310 L1180,1290 M1060,1330 L1135,1415 L1240,1395"/>
<path d="M1180,1165 C1220,1130 1300,1130 1400,1140 C1500,1150 1580,1170 1640,1195 M1180,1165 C1170,1185 1190,1200 1215,1205 L1295,1205 M1215,1205 C1190,1215 1130,1230 1130,1250 C1140,1280 1200,1300 1270,1305 M1270,1305 C1200,1305 1160,1320 1170,1350 C1190,1380 1240,1385 1250,1390 C1240,1410 1240,1430 1270,1440 C1300,1450 1320,1440 1330,1460 C1350,1480 1400,1475 1450,1465 C1520,1460 1600,1460 1640,1440 L1650,1400"/>
</g>
</g>

<g transform="translate(2130,3000) scale(0.625)">
<g class="s" style="stroke-width:1.9px">
<ellipse cx="383" cy="338" rx="222" ry="200"/>
<ellipse cx="1268" cy="335" rx="230" ry="180"/>
<ellipse cx="850" cy="705" rx="235" ry="190"/>
<path d="M725,295 C780,265 850,255 935,285 M895,245 L935,285 L910,305"/>
<path d="M555,710 C510,680 480,640 460,590 M452,615 L460,582 L488,592"/>
<path d="M1300,590 C1295,650 1260,690 1220,710 C1195,725 1175,745 1160,758 L1197,762 M1160,758 L1180,722"/>
</g>
</g>

<clipPath id="clipart5"><ellipse cx="2369.4" cy="3211.2" rx="136.8" ry="123.0"/></clipPath><g clip-path="url(#clipart5)" style="--sw:1.1px;--lw:0.8px;--kw:0.8px"><use href="#art5" transform="matrix(0.33 0 0 0.325 1819.50 2768.00)"/></g><clipPath id="clipart9"><ellipse cx="2922.5" cy="3209.4" rx="141.8" ry="110.5"/></clipPath><g clip-path="url(#clipart9)" style="--sw:1.1px;--lw:0.8px;--kw:0.8px"><use href="#art9" transform="matrix(0.34 0 0 0.335 1997.67 2441.25)"/></g><clipPath id="clipart10"><ellipse cx="2661.2" cy="3440.6" rx="144.9" ry="116.8"/></clipPath><g clip-path="url(#clipart10)" style="--sw:1.1px;--lw:0.8px;--kw:0.8px"><use href="#art10" transform="matrix(0.31 0 0 0.305 2456.55 2430.62)"/></g>
</svg>
<div class="t" style="left:147.0px;top:705.71px">Ava saw the commercial while watching a<br>Youtube video. Alternative: Ava checked her<br>mailbox and found Traveler’s direct mail.</div>
<div class="t" style="left:1127.0px;top:705.71px">Curious, Ava is guided to Traveler’s Tea<br>website. She explored the home page and is<br>pleased to find out that Traveler’s is organic,<br>sustainable and fair-trade.</div>
<div class="t" style="left:2153.5px;top:705.71px">Once she knows that Traveler’s is currently<br>offering a discount on teas purchased online,<br>she went on to buy a couple packs of tea.</div>
<div class="t" style="left:147.0px;top:1654.96px">After placing her order, she checked other<br>parts of the website and found out she can<br>reserve a tearoom at a Traveler’s store<br>nearby. She reserved a room for three.</div>
<div class="t" style="left:1127.0px;top:1654.96px">Ava invited her two friends to a tea chat. They<br>went to a Traveler’s where she reserved. She<br>checked in using her phone.</div>
<div class="t" style="left:2153.5px;top:1654.96px">In the tearoom, Ava and her friends chatted<br>over tea.</div>
<div class="t" style="left:147.0px;top:2632.11px">Before checking out the table, Ava found out<br>about Traveler’s Loyalty app on a small<br>tabletop sign. She went ahead and<br>downloaded the app through a QR code.</div>
<div class="t" style="left:1127.0px;top:2632.11px">At table checkout, Ava gets the employee to<br>scan the QR code so she can get points.</div>
<div class="t" style="left:2153.5px;top:2632.11px">Before leaving the store, Ava decided to buy<br>more of Traveler’s in-house crafted tea. She<br>also used the Loyalty app for this.</div>
<div class="t" style="left:147.0px;top:3662.11px">The Loyalty app would notify that Ava got a<br>reward, which is a discount code for<br>Traveler’s online store.</div>
<div class="t" style="left:1127.0px;top:3662.11px">Later on, she decided to shop online<br>Traveler’s and use the discount coupon so she<br>could buy more tea.</div>
<div class="t" style="left:2153.5px;top:3662.11px">With the Loyalty app, Ava (and her friends,<br>probably) would come back often to the store<br>and continue to use their tearooms or buy<br>more of their tea.</div>
</body></html>
